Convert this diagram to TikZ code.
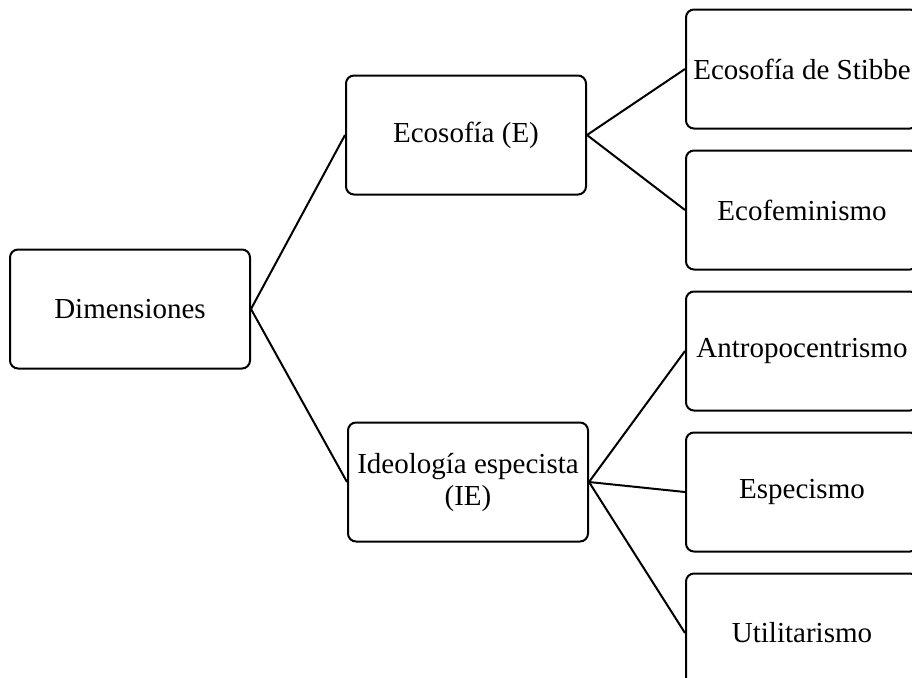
\documentclass[tikz,border=0pt]{standalone}
\usepackage{fontspec}
\setmainfont{Liberation Serif}
\usetikzlibrary{positioning}
\tikzstyle{dimbox} = [rectangle, rounded corners=4pt, minimum width=120pt, minimum height=59.5pt, align=center, draw=black, line width=1pt, font=\fontsize{14.5}{16}\selectfont, inner sep=2pt]
\tikzstyle{subbox} = [dimbox, minimum width=116pt]
\tikzstyle{line} = [line width=1pt]

\begin{document}
\begin{tikzpicture}[x=0.5pt, y=-0.5pt]

\useasboundingbox (0,0) rectangle (912,677);
\clip (0,0) rectangle (912,677);

\node (D) [dimbox] at (130,309) {Dimensiones};
\node (E) [dimbox, right=47pt of D, yshift=87pt] {Ecosofía (E)};
\node (IE) [dimbox, right=48pt of D, yshift=-86.5pt] {Ideología especista\\(IE)};

\node (E1) [subbox, right=49pt of E, yshift=33pt] {Ecosofía de Stibbe};
\node (E2) [subbox, below=10pt of E1] {Ecofeminismo};
\node (IE1) [subbox, below=10pt of E2] {Antropocentrismo};
\node (IE2) [subbox, below=10pt of IE1] {Especismo};
\node (IE3) [subbox, below=10pt of IE2] {Utilitarismo};

\draw [line] (D.east) -- (E.west);
\draw [line] (D.east) -- (IE.west);

\draw [line] (E.east) -- (E1.west);
\draw [line] (E.east) -- (E2.west);

\draw [line] (IE.east) -- (IE1.west);
\draw [line] (IE.east) -- (IE2.west);
\draw [line] (IE.east) -- (IE3.west);

\end{tikzpicture}
\end{document}
